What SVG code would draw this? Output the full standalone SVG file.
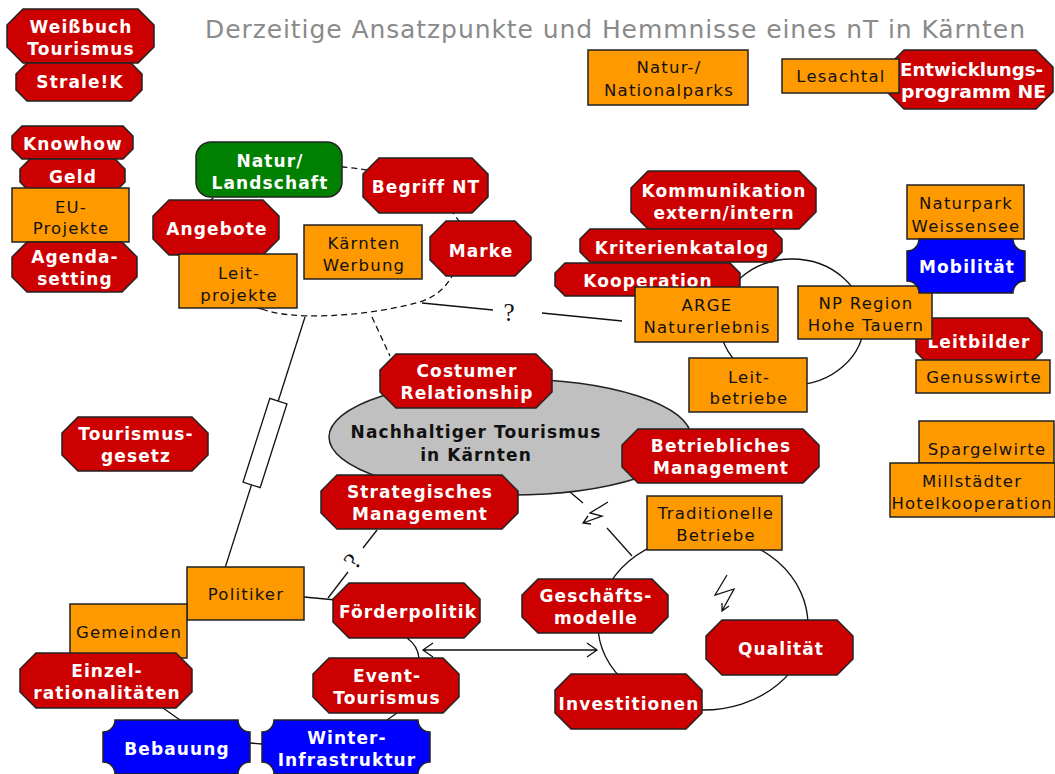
<svg xmlns="http://www.w3.org/2000/svg" width="1055" height="774" viewBox="0 0 1055 774">
<style>
.oct{fill:#cc0000;stroke:#222;stroke-width:1.5}
.box{fill:#ff9900;stroke:#222;stroke-width:1.5}
.grn{fill:#008000;stroke:#222;stroke-width:1.5}
.blu{fill:#0000ff;stroke:#222;stroke-width:1.5}
.ell{fill:#c0c0c0;stroke:#222;stroke-width:1.5}
.tw{font-family:"DejaVu Sans",Verdana,sans-serif;font-weight:bold;font-size:17px;letter-spacing:1.1px;fill:#fff;text-anchor:middle}
.tk{font-family:"DejaVu Sans",Verdana,sans-serif;font-size:16.5px;letter-spacing:1.2px;fill:#111;text-anchor:middle}
.tc{font-family:"DejaVu Sans",Verdana,sans-serif;font-weight:bold;font-size:17px;letter-spacing:1.1px;fill:#111;text-anchor:middle}
.ln{fill:none;stroke:#111;stroke-width:1.3}
.dash{fill:none;stroke:#111;stroke-width:1.3;stroke-dasharray:6 4}
.q{font-family:"Liberation Serif",serif;font-size:25px;fill:#111;text-anchor:middle}
</style>
<rect width="1055" height="774" fill="#fff"/>
<text x="205" y="38" font-family="DejaVu Sans, Verdana, sans-serif" font-size="25" fill="#8a8a8a" textLength="820" lengthAdjust="spacing">Derzeitige Ansatzpunkte und Hemmnisse eines nT in Kärnten</text>

<g id="connectors">
  <path class="dash" d="M262,309 C290,320 360,318 420,302 C437,296 446,287 452,276 C470,255 468,230 455,216 C440,190 400,172 343,167 C300,163 235,178 212,199 C185,225 200,295 262,309 Z"/>
  <line class="dash" x1="372" y1="317" x2="390" y2="356"/>
  <line class="ln" x1="305" y1="317" x2="225" y2="568"/>
  <rect x="-9" y="-44" width="18" height="88" fill="#fff" stroke="#111" stroke-width="1.3" transform="translate(265,443) rotate(17.7)"/>
  <line class="ln" x1="422" y1="303" x2="493" y2="310"/>
  <text class="q" x="509" y="321">?</text>
  <line class="ln" x1="542" y1="313" x2="622" y2="321"/>
  <line class="ln" x1="377" y1="530" x2="363" y2="548"/>
  <text class="q" x="0" y="0" transform="translate(359,566) rotate(-54)">?</text>
  <line class="ln" x1="348" y1="572" x2="328" y2="598"/>
  <line class="ln" x1="304" y1="597" x2="336" y2="600"/>
  <path class="ln" d="M407,638 Q418,646 419,658"/>
  <line class="ln" x1="397" y1="713" x2="387" y2="720"/>
  <line class="ln" x1="250" y1="743" x2="262" y2="744"/>
  <line class="ln" x1="163" y1="708" x2="180" y2="720"/>
  <path class="ln" d="M423,650 H597 M433,643 L423,650 L433,657 M587,643 L597,650 L587,657" stroke="#333"/>
  <ellipse class="ln" cx="792" cy="322" rx="72" ry="63"/>
  <path class="ln" d="M598,625 A105,90 0 0 1 808,625 A105,85 0 0 1 598,625 Z"/>
  <line class="ln" x1="570" y1="492" x2="583" y2="503"/>
  <path class="ln" d="M608,502 L590,513 L602,516 L583,523 M591,524 L583,523 L588,516"/>
  <line class="ln" x1="607" y1="528" x2="632" y2="556"/>
  <path class="ln" d="M727,575 L715,595 L734,589 L722,611 M729,606 L722,611 L722,603"/>
</g>

<g id="weissbuch"><path class="oct" d="M23,9 H138 L154,25 V47 L138,63 H23 L7,47 V25 Z"/><text class="tw"><tspan x="81" y="33">Weißbuch</tspan><tspan x="81" y="55">Tourismus</tspan></text></g>
<g id="stralek"><path class="oct" d="M27,63 H131 L142,74 V90 L131,101 H27 L16,90 V74 Z"/><text class="tw" x="80" y="88">Strale!K</text></g>
<g id="knowhow"><path class="oct" d="M22,126 H123 L133,136 V149 L123,159 H22 L12,149 V136 Z"/><text class="tw" x="73" y="150">Knowhow</text></g>
<g id="geld"><path class="oct" d="M30,159 H115 L125,169 V182 L115,192 H30 L20,182 V169 Z"/><text class="tw" x="73" y="183">Geld</text></g>
<g id="euprojekte"><rect class="box" x="12" y="188" width="117" height="54"/><text class="tk"><tspan x="71" y="213">EU-</tspan><tspan x="71" y="234">Projekte</tspan></text></g>
<g id="agenda"><path class="oct" d="M27,242 H122 L137,257 V277 L122,292 H27 L12,277 V257 Z"/><text class="tw"><tspan x="75" y="263">Agenda-</tspan><tspan x="75" y="285">setting</tspan></text></g>

<g id="natur"><rect class="grn" x="196" y="142" width="146" height="55" rx="15"/><text class="tw"><tspan x="270" y="167">Natur/</tspan><tspan x="270" y="189">Landschaft</tspan></text></g>
<g id="angebote"><path class="oct" d="M169,200 H263 L279,216 V239 L263,255 H169 L153,239 V216 Z"/><text class="tw" x="217" y="235">Angebote</text></g>
<g id="leitprojekte"><rect class="box" x="179" y="254" width="118" height="54"/><text class="tk"><tspan x="239" y="279">Leit-</tspan><tspan x="239" y="301">projekte</tspan></text></g>
<g id="kaerntenwerbung"><rect class="box" x="304" y="225" width="118" height="54"/><text class="tk"><tspan x="364" y="249">Kärnten</tspan><tspan x="364" y="271">Werbung</tspan></text></g>
<g id="begriffnt"><path class="oct" d="M379,158 H472 L488,174 V197 L472,213 H379 L363,197 V174 Z"/><text class="tw" x="426" y="193">Begriff NT</text></g>
<g id="marke"><path class="oct" d="M446,221 H515 L531,237 V260 L515,276 H446 L430,260 V237 Z"/><text class="tw" x="481" y="257">Marke</text></g>

<g id="nationalparks"><rect class="box" x="588" y="50" width="160" height="55"/><text class="tk"><tspan x="669" y="73">Natur-/</tspan><tspan x="669" y="96">Nationalparks</tspan></text></g>
<g id="entwicklung"><path class="oct" d="M904,50 H1036 L1053,67 V92 L1036,109 H904 L887,92 V67 Z"/><text class="tw" x="900" y="76" style="text-anchor:start;letter-spacing:0" textLength="143" lengthAdjust="spacingAndGlyphs">Entwicklungs-</text><text class="tw" x="901" y="98" style="text-anchor:start;letter-spacing:0" textLength="145" lengthAdjust="spacingAndGlyphs">programm NE</text></g>
<g id="lesachtal"><rect class="box" x="782" y="59" width="117" height="34"/><text class="tk" x="841" y="82">Lesachtal</text></g>

<g id="kommunikation"><path class="oct" d="M648,171 H799 L816,188 V212 L799,229 H648 L631,212 V188 Z"/><text class="tw"><tspan x="724" y="197">Kommunikation</tspan><tspan x="724" y="219">extern/intern</tspan></text></g>
<g id="kriterienkatalog"><path class="oct" d="M590,229 H772 L782,239 V252 L772,262 H590 L580,252 V239 Z"/><text class="tw" x="682" y="254">Kriterienkatalog</text></g>
<g id="kooperation"><path class="oct" d="M565,263 H730 L740,273 V286 L730,296 H565 L555,286 V273 Z"/><text class="tw" x="648" y="287">Kooperation</text></g>
<g id="arge"><rect class="box" x="635" y="287" width="143" height="55"/><text class="tk"><tspan x="707" y="311">ARGE</tspan><tspan x="707" y="333">Naturerlebnis</tspan></text></g>
<g id="leitbilder"><path class="oct" d="M930,318 H1028 L1042,332 V352 L1028,366 H930 L916,352 V332 Z"/><text class="tw" x="979" y="348">Leitbilder</text></g>
<g id="npregion"><rect class="box" x="798" y="286" width="134" height="53"/><text class="tk"><tspan x="866" y="309">NP Region</tspan><tspan x="866" y="331">Hohe Tauern</tspan></text></g>
<g id="genusswirte"><rect class="box" x="916" y="360" width="134" height="33"/><text class="tk" x="984" y="383">Genusswirte</text></g>
<g id="leitbetriebe"><rect class="box" x="689" y="358" width="118" height="54"/><text class="tk"><tspan x="749" y="383">Leit-</tspan><tspan x="749" y="404">betriebe</tspan></text></g>
<g id="naturpark"><rect class="box" x="907" y="185" width="117" height="54"/><text class="tk"><tspan x="966" y="209">Naturpark</tspan><tspan x="966" y="232">Weissensee</tspan></text></g>
<g id="mobilitaet"><path class="blu" d="M919,239 H1013 A12,12 0 0 0 1025,251 V281 A12,12 0 0 0 1013,293 H919 A12,12 0 0 0 907,281 V251 A12,12 0 0 0 919,239 Z"/><text class="tw" x="967" y="273">Mobilität</text></g>

<g id="nachhaltig"><ellipse class="ell" cx="510" cy="437" rx="181" ry="58"/><text class="tc"><tspan x="476" y="438">Nachhaltiger Tourismus</tspan><tspan x="476" y="461">in Kärnten</tspan></text></g>
<g id="costumer"><path class="oct" d="M396,354 H536 L552,370 V392 L536,408 H396 L380,392 V370 Z"/><text class="tw"><tspan x="467" y="377">Costumer</tspan><tspan x="467" y="399">Relationship</tspan></text></g>
<g id="strategisch"><path class="oct" d="M337,475 H502 L518,491 V513 L502,529 H337 L321,513 V491 Z"/><text class="tw"><tspan x="420" y="498">Strategisches</tspan><tspan x="420" y="520">Management</tspan></text></g>
<g id="betrieblich"><path class="oct" d="M638,429 H803 L819,445 V467 L803,483 H638 L622,467 V445 Z"/><text class="tw"><tspan x="721" y="452">Betriebliches</tspan><tspan x="721" y="474">Management</tspan></text></g>

<g id="tourismusgesetz"><path class="oct" d="M78,417 H192 L208,433 V455 L192,471 H78 L62,455 V433 Z"/><text class="tw"><tspan x="136" y="440">Tourismus-</tspan><tspan x="136" y="462">gesetz</tspan></text></g>
<g id="spargelwirte"><rect class="box" x="919" y="421" width="135" height="42"/><text class="tk" x="987" y="455">Spargelwirte</text></g>
<g id="millstaedter"><rect class="box" x="890" y="463" width="165" height="54"/><text class="tk"><tspan x="972" y="487">Millstädter</tspan><tspan x="972" y="509">Hotelkooperation</tspan></text></g>
<g id="traditionelle"><rect class="box" x="647" y="496" width="135" height="54"/><text class="tk"><tspan x="716" y="519">Traditionelle</tspan><tspan x="716" y="541">Betriebe</tspan></text></g>

<g id="politiker"><rect class="box" x="187" y="567" width="117" height="53"/><text class="tk" x="246" y="600">Politiker</text></g>
<g id="gemeinden"><rect class="box" x="70" y="604" width="117" height="54"/><text class="tk" x="129" y="638">Gemeinden</text></g>
<g id="einzel"><path class="oct" d="M36,653 H176 L192,669 V692 L176,708 H36 L20,692 V669 Z"/><text class="tw"><tspan x="107" y="677">Einzel-</tspan><tspan x="107" y="699">rationalitäten</tspan></text></g>
<g id="foerderpolitik"><path class="oct" d="M349,583 H464 L480,599 V622 L464,638 H349 L333,622 V599 Z"/><text class="tw" x="408" y="618">Förderpolitik</text></g>
<g id="event"><path class="oct" d="M329,658 H443 L459,674 V697 L443,713 H329 L313,697 V674 Z"/><text class="tw"><tspan x="387" y="682">Event-</tspan><tspan x="387" y="704">Tourismus</tspan></text></g>
<g id="bebauung"><path class="blu" d="M115,720 H238 A12,12 0 0 0 250,732 V762 A12,12 0 0 0 238,774 H115 A12,12 0 0 0 103,762 V732 A12,12 0 0 0 115,720 Z"/><text class="tw" x="177" y="755">Bebauung</text></g>
<g id="winter"><path class="blu" d="M274,720 H418 A12,12 0 0 0 430,732 V762 A12,12 0 0 0 418,774 H274 A12,12 0 0 0 262,762 V732 A12,12 0 0 0 274,720 Z"/><text class="tw"><tspan x="347" y="744">Winter-</tspan><tspan x="347" y="766">Infrastruktur</tspan></text></g>

<g id="geschaeftsmodelle"><path class="oct" d="M538,579 H652 L668,595 V617 L652,633 H538 L522,617 V595 Z"/><text class="tw"><tspan x="596" y="602">Geschäfts-</tspan><tspan x="596" y="624">modelle</tspan></text></g>
<g id="qualitaet"><path class="oct" d="M722,620 H837 L853,636 V659 L837,675 H722 L706,659 V636 Z"/><text class="tw" x="781" y="655">Qualität</text></g>
<g id="investitionen"><path class="oct" d="M571,674 H686 L702,690 V713 L686,729 H571 L555,713 V690 Z"/><text class="tw" x="629" y="710">Investitionen</text></g>
</svg>
